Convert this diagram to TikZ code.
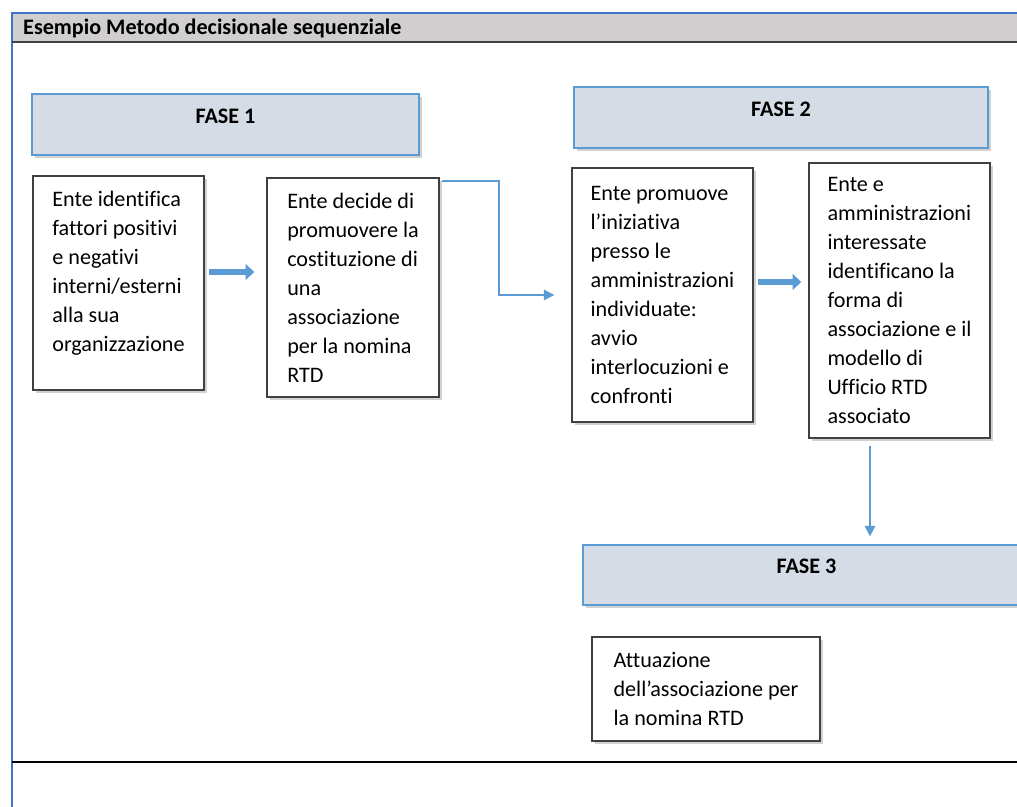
\documentclass[tikz,border=0pt]{standalone}
\usepackage{fontspec}
\setmainfont[Ligatures={NoCommon}]{Carlito}
\usepackage{tikz}
\usetikzlibrary{positioning}
\usetikzlibrary{arrows.meta}
\usetikzlibrary{shadows}

\definecolor{fasefill}{HTML}{D6DCE5}
\definecolor{faseline}{HTML}{5B9BD5}
\definecolor{arrowblue}{HTML}{5B9BD5}
\definecolor{bargray}{HTML}{D0CECE}
\definecolor{frameblue}{HTML}{4472C4}
\definecolor{boxline}{HTML}{404040}

\begin{document}
\begin{tikzpicture}[x=0.02cm, y=-0.02cm,
            font=\fontsize{12.6}{16.5}\selectfont,
            wh/.style 2 args = {minimum width=#1*0.02cm, minimum height=#2*0.02cm},
            soft/.style = {drop shadow={shadow xshift=1.5pt, shadow yshift=-1.5pt,
                fill=black!35, opacity=0.5}},
            fase/.style = {draw=faseline, fill=fasefill, line width=0.8pt, soft,
                font=\fontsize{12.6}{16.5}\selectfont\bfseries,
                text height=8pt, text depth=9.5pt},
            box/.style = {draw=boxline, fill=white, line width=0.8pt, soft,
                align=left, inner sep=0pt},
            fatarrow/.style = {arrowblue, line width=3.4pt,
                -{Triangle[length=5pt,width=9pt]}},
            flow/.style = {arrowblue, line width=1pt,
                -{Triangle[length=6pt,width=6pt]}}]
            \useasboundingbox (0,0) rectangle (1017,807);
            \clip (0,0) rectangle (1017,807);
            \fill[white] (0,0) rectangle (1017,807);
            % cornice e barra del titolo
            \fill[bargray] (12,14) rectangle (1017,42);
            \draw[frameblue, line width=1.2pt] (12,807) -- (12,13) -- (1017,13);
            \draw[black!75, line width=1pt] (12,42) -- (1017,42);
            \draw[black, line width=0.8pt] (12,762) -- (1017,762);
            \node[anchor=west, font=\fontsize{12.6}{16.5}\selectfont\bfseries]
                (title) at (17,28) {Esempio Metodo decisionale sequenziale};
            % fasi
            \node[fase, wh={387}{61}] (f1) at (225.5,124.5) {FASE 1};
            \node[fase, wh={414}{61}] (f2) at (781,117.5) {FASE 2};
            \node[fase, wh={447}{60}] (f3) at (806.5,575) {FASE 3};
            % attivita
            \node[box, wh={171}{214}] (a) at (118.5,283)
                {Ente identifica\\fattori positivi\\e negativi\\interni/esterni\\alla sua\\organizzazione\\[-3pt]\mbox{}};
            \node[box, wh={172}{219}] (b) at (353,287.5)
                {Ente decide di\\promuovere la\\costituzione di\\una\\associazione\\per la nomina\\RTD};
            \node[box, wh={181}{254}] (c) at (662.5,295)
                {Ente promuove\\l’iniziativa\\presso le\\amministrazioni\\individuate:\\avvio\\interlocuzioni e\\confronti};
            \node[box, wh={181}{275}] (d) at (899.5,300.5)
                {Ente e\\amministrazioni\\interessate\\identificano la\\forma di\\associazione e il\\modello di\\Ufficio RTD\\associato};
            \node[box, wh={228}{104}] (e) at (706,689)
                {Attuazione\\dell’associazione per\\la nomina RTD};
            % frecce
            \coordinate (ab) at ([shift={(4,-11)}]a.east);
            \coordinate (bc) at ([shift={(2,4)}]b.north east);
            \coordinate (cd) at ([shift={(4,-13)}]c.east);
            \coordinate (df) at ([shift={(-29.5,7)}]d.south);
            \draw[fatarrow, shorten >=0.24cm] (ab) -- (ab -| b.west);
            \draw[flow, shorten >=0.34cm] (bc) -- ++(57,0) |- (c.west);
            \draw[fatarrow, shorten >=0.14cm] (cd) -- (cd -| d.west);
            \draw[flow, shorten >=0.16cm] (df) -- (df |- f3.north);
        \end{tikzpicture}
\end{document}
